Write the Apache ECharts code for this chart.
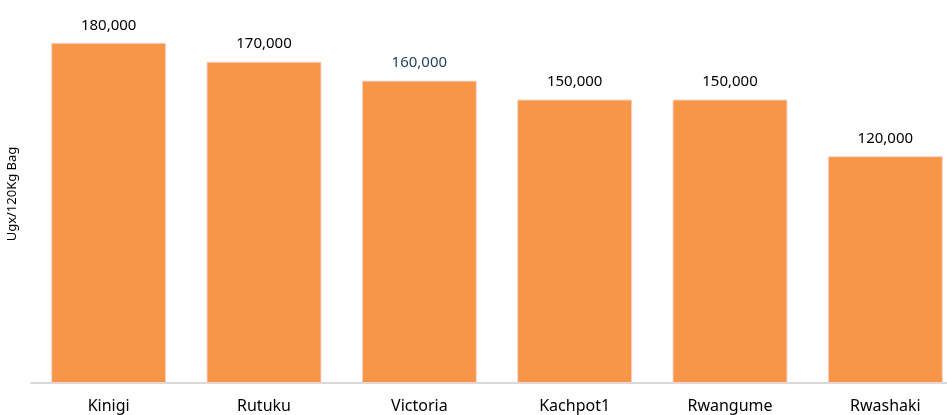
<!DOCTYPE html>
<html>
<head>
<meta charset="utf-8">
<script src="https://cdn.jsdelivr.net/npm/echarts@6/dist/echarts.min.js"></script>
<style>
html,body{margin:0;padding:0;background:#fff;}
#chart{width:947px;height:415px;}
</style>
</head>
<body>
<div id="chart"></div>
<script>
const categories = ['Kinigi', 'Rutuku', 'Victoria', 'Kachpot1', 'Rwangume', 'Rwashaki'];
const prices = [180000, 170000, 160000, 150000, 150000, 120000];
const labelColors = ['#000000', '#000000', '#1F3D55', '#000000', '#000000', '#000000'];
const yAxisTitle = 'Ugx/120Kg Bag';

const chart = echarts.init(document.getElementById('chart'));
const fmt = v => v.toLocaleString('en-US');
chart.setOption({
  animation: false,
  grid: { left: 31, top: 5, bottom: 32, right: -16, containLabel: false, outerBoundsMode: 'none' },
  xAxis: {
    type: 'category',
    data: categories,
    axisLine: { show: true, lineStyle: { color: '#D9D9D9', width: 2 } },
    axisTick: { show: false },
    axisLabel: { color: '#000', fontFamily: 'Noto Sans', fontSize: 16, margin: 15 }
  },
  yAxis: {
    type: 'value',
    min: 0, max: 200000,
    name: yAxisTitle,
    nameLocation: 'middle',
    nameGap: 12,
    nameTextStyle: { color: '#000', fontFamily: 'Noto Sans', fontSize: 13 },
    axisLine: { show: false },
    axisTick: { show: false },
    axisLabel: { show: false },
    splitLine: { show: false }
  },
  series: [{
    type: 'bar',
    barWidth: 115,
    data: prices.map((v, i) => ({
      value: v,
      label: { color: labelColors[i] }
    })),
    itemStyle: { color: '#F79646', borderColor: '#F6D3CF', borderWidth: 1 },
    label: {
      show: true,
      position: 'top',
      distance: 10,
      fontFamily: 'Noto Sans',
      fontSize: 15,
      formatter: p => fmt(p.value)
    }
  }]
});
</script>
</body>
</html>
